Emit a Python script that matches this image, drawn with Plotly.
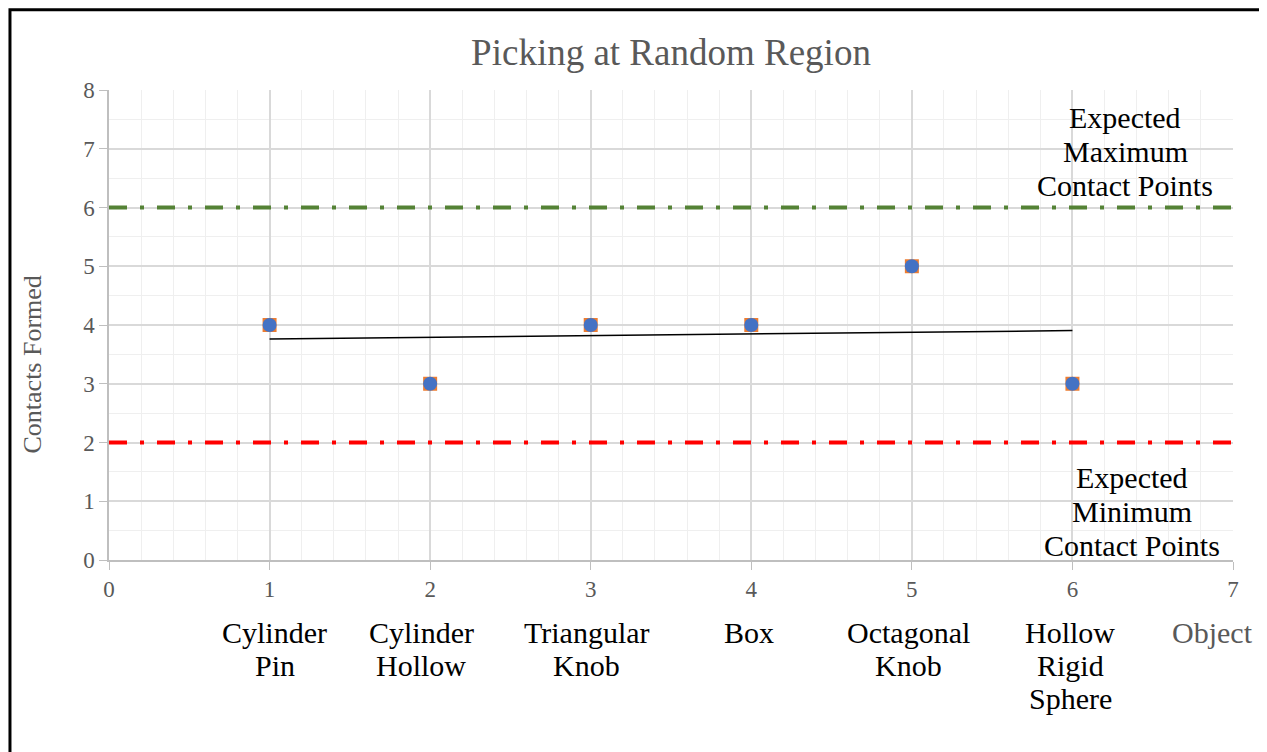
import numpy as np
import plotly.graph_objects as go

# --- data ---
objects = ["Cylinder\nPin", "Cylinder\nHollow", "Triangular\nKnob", "Box",
           "Octagonal\nKnob", "Hollow\nRigid\nSphere"]
object_idx = [1, 2, 3, 4, 5, 6]
contacts = [4, 3, 4, 4, 5, 3]
expected_max = 6
expected_min = 2

FONT = "Liberation Serif"
GRAY = "#595959"

# the page has an 8px body margin, so the figure is 16px smaller than the window
W, H = 1259, 744

# linear trendline (as the spreadsheet would fit it)
slope, icpt = np.polyfit(object_idx, contacts, 1)
trend_x = [object_idx[0], object_idx[-1]]
trend_y = [slope * x + icpt for x in trend_x]

fig = go.Figure()

# reference lines (dash-dot)
dashdot = "18px,13px,4px,13px"
fig.add_trace(go.Scatter(x=[0, 7.05], y=[expected_max] * 2, mode="lines",
                         line=dict(color="#548235", width=4, dash=dashdot),
                         cliponaxis=False, hoverinfo="skip"))
fig.add_trace(go.Scatter(x=[0, 7.05], y=[expected_min] * 2, mode="lines",
                         line=dict(color="#FF0000", width=4, dash=dashdot),
                         cliponaxis=False, hoverinfo="skip"))

# trendline
fig.add_trace(go.Scatter(x=trend_x, y=trend_y, mode="lines",
                         line=dict(color="black", width=1.5)))

# points: orange squares under blue circles
fig.add_trace(go.Scatter(x=object_idx, y=contacts, mode="markers",
                         marker=dict(symbol="square", size=14, color="#ED7D31")))
fig.add_trace(go.Scatter(x=object_idx, y=contacts, mode="markers",
                         marker=dict(symbol="circle", size=14, color="#4472C4",
                                     line=dict(width=0))))


def text_block(lines, x, y, yref, first_shift, step, color="black", size=30, xshift=0):
    # one annotation per line so the line spacing can match Word's tighter spacing
    for i, ln in enumerate(lines):
        fig.add_annotation(x=x, y=y, xref="x", yref=yref, text=ln,
                           showarrow=False, xanchor="center", yanchor="middle",
                           xshift=xshift, yshift=first_shift - i * step,
                           font=dict(family=FONT, size=size, color=color))


# category labels under the axis
label_xshift = [5, -9, -4, -2, -3, -2]
for xi, name, xs in zip(object_idx, objects, label_xshift):
    text_block(name.split("\n"), xi, 0, "paper", -72, 33, xshift=xs)

text_block(["Object"], 7, 0, "paper", -72, 33, color=GRAY, xshift=-21)

text_block(["Expected", "Maximum", "Contact Points"], 6.33, 7.54, "y", 0, 34)
text_block(["Expected", "Minimum", "Contact Points"], 6.37, 1.40, "y", 0, 34)

# y axis title, placed like the original (below the plot middle)
fig.add_annotation(x=-0.068, y=0.415, xref="paper", yref="paper",
                   text="Contacts Formed", textangle=-90, showarrow=False,
                   xanchor="center", yanchor="middle",
                   font=dict(family=FONT, size=26, color=GRAY))

# outer frame
fig.add_shape(type="rect", xref="paper", yref="paper",
              x0=-0.0881, x1=1.0267, y0=-0.45, y1=1.171,
              line=dict(color="black", width=3), layer="above")

fig.update_layout(
    width=W, height=H,
    margin=dict(l=101, r=34, t=82, b=192),
    paper_bgcolor="white", plot_bgcolor="white",
    showlegend=False,
    title=dict(text="Picking at Random Region", x=0.5, xref="paper",
               y=1 - 44 / H, yanchor="middle",
               font=dict(family=FONT, size=37, color=GRAY)),
    font=dict(family=FONT, color=GRAY),
)

fig.update_xaxes(range=[0, 7], dtick=1, tick0=0,
                 showgrid=True, gridcolor="#d9d9d9", gridwidth=1.5,
                 minor=dict(dtick=0.2, showgrid=True, gridcolor="#efefef", gridwidth=1),
                 showline=True, linecolor="#bfbfbf", linewidth=1.5,
                 ticks="outside", ticklen=8, tickcolor="#bfbfbf",
                 tickfont=dict(family=FONT, size=23, color=GRAY),
                 zeroline=False)
fig.update_yaxes(range=[0, 8], dtick=1, tick0=0,
                 showgrid=True, gridcolor="#d9d9d9", gridwidth=1.5,
                 minor=dict(dtick=0.5, showgrid=True, gridcolor="#efefef", gridwidth=1),
                 showline=True, linecolor="#bfbfbf", linewidth=1.5,
                 ticks="outside", ticklen=8, tickcolor="#bfbfbf",
                 tickfont=dict(family=FONT, size=23, color=GRAY),
                 zeroline=False)

fig.write_html("out.html")
